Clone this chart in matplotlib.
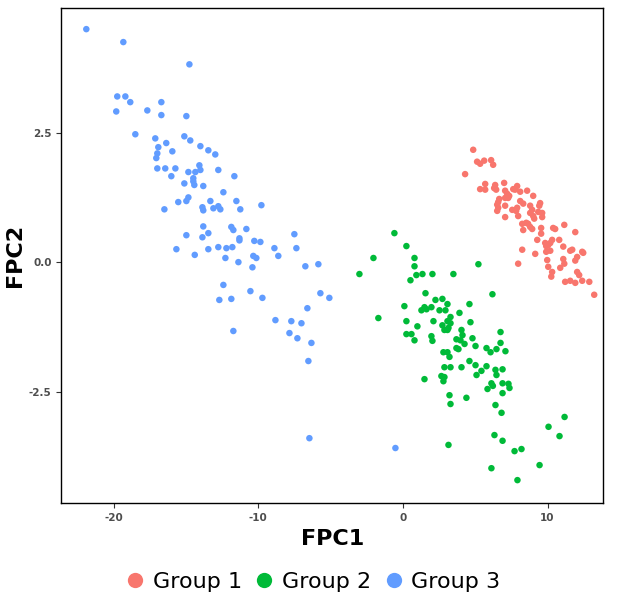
import matplotlib
matplotlib.use("Agg")
import matplotlib.pyplot as plt
from matplotlib.lines import Line2D

# Group 1 (red)
g1_x = [4.86, 5.13, 5.34, 5.62, 6.10, 6.24, 4.30, 5.69, 5.34, 5.69, 6.38, 6.31, 6.45, 7.00, 7.07,
        7.63, 7.90, 7.76, 8.11, 8.59, 9.01, 7.21, 7.35, 7.28, 7.07, 6.66, 6.59, 6.52, 6.59, 6.52,
        7.07, 8.11, 8.32, 7.56, 7.90, 7.83, 8.80, 8.94, 8.80, 9.49, 9.43, 9.36, 9.63, 7.07, 7.97,
        9.01, 9.08, 9.63, 8.25, 8.53, 8.66, 8.80, 8.94, 8.32, 9.56, 9.56, 9.29, 10.39, 10.53, 11.16,
        11.92, 10.32, 10.81, 9.84, 9.91, 10.05, 10.19, 8.25, 9.15, 9.91, 10.19, 11.09, 11.71, 11.57,
        12.40, 12.47, 7.97, 9.98, 11.09, 11.16, 12.05, 11.92, 10.05, 10.88, 10.32, 10.26, 12.05,
        12.19, 11.22, 11.57, 11.92, 12.40, 12.89, 13.23]
g1_y = [2.17, 1.94, 1.90, 1.96, 1.97, 1.88, 1.70, 1.51, 1.41, 1.40, 1.49, 1.43, 1.40, 1.53, 1.38,
        1.41, 1.47, 1.40, 1.36, 1.38, 1.28, 1.32, 1.28, 1.24, 1.24, 1.22, 1.16, 1.11, 1.05, 0.99,
        1.09, 1.18, 1.13, 1.01, 1.05, 0.99, 1.09, 1.01, 0.95, 1.14, 1.09, 0.97, 0.95, 0.87, 0.89,
        0.89, 0.84, 0.87, 0.74, 0.76, 0.74, 0.68, 0.64, 0.62, 0.66, 0.55, 0.43, 0.66, 0.64, 0.72,
        0.58, 0.43, 0.43, 0.37, 0.31, 0.33, 0.37, 0.24, 0.16, 0.20, 0.22, 0.30, 0.24, 0.22,
        0.20, 0.18, -0.03, 0.04, 0.06, -0.03, 0.10, 0.03, -0.09, -0.11, -0.19, -0.28, -0.19,
        -0.25, -0.38, -0.36, -0.40, -0.36, -0.38, -0.63]

# Group 2 (green)
g2_x = [-0.59, 0.24, -2.04, 0.80, -3.01, 0.80, 0.93, 1.35, 2.04, 3.49, 0.52, 5.22, 1.56, 6.19,
        2.25, 2.73, 3.08, 4.60, 0.10, -1.70, 1.28, 1.49, 1.63, 1.97, 2.53, 2.94, 3.91, 3.29, 4.67,
        0.24, 2.11, 3.08, 3.29, 1.00, 2.73, 2.87, 3.08, 3.15, 4.05, 6.75, 0.24, 0.59, 1.97, 4.12,
        4.81, 0.80, 2.04, 3.70, 3.98, 4.26, 5.02, 6.75, 3.70, 3.84, 2.80, 3.08, 5.78, 6.06, 6.47,
        7.09, 3.22, 4.60, 5.02, 5.78, 2.87, 3.29, 4.05, 5.43, 6.40, 6.89, 5.09, 6.47, 2.66, 2.87,
        2.80, 1.49, 6.12, 6.22, 5.85, 6.89, 7.30, 7.37, 6.89, 3.22, 4.39, 3.29, 6.40, 6.82, 11.18,
        10.07, 10.83, 6.33, 6.89, 3.15, 7.72, 8.20, 9.45, 6.12, 7.92]
g2_y = [0.56, 0.31, 0.08, 0.08, -0.23, -0.08, -0.25, -0.23, -0.23, -0.23, -0.35, -0.04, -0.60, -0.62,
        -0.73, -0.71, -0.81, -0.81, -0.85, -1.08, -0.93, -0.87, -0.91, -0.87, -0.93, -0.93, -0.98,
        -1.06, -1.16, -1.14, -1.14, -1.14, -1.18, -1.24, -1.22, -1.31, -1.31, -1.27, -1.31, -1.35,
        -1.39, -1.39, -1.43, -1.41, -1.47, -1.51, -1.52, -1.49, -1.51, -1.58, -1.62, -1.56, -1.66,
        -1.68, -1.74, -1.74, -1.66, -1.74, -1.68, -1.72, -1.83, -1.91, -1.99, -2.01, -2.03, -2.03,
        -2.03, -2.10, -2.08, -2.07, -2.18, -2.18, -2.20, -2.22, -2.30, -2.26, -2.34, -2.39, -2.45,
        -2.34, -2.35, -2.43, -2.53, -2.57, -2.62, -2.74, -2.76, -2.91, -2.99, -3.18, -3.36, -3.34,
        -3.45, -3.53, -3.65, -3.61, -3.92, -3.98, -4.21]

# Group 3 (blue)
g3_x = [-21.90, -19.34, -14.77, -19.76, -19.20, -18.86, -16.71, -19.83, -17.68, -16.71, -14.98,
        -18.51, -17.13, -15.12, -14.71, -16.92, -16.37, -14.01, -13.46, -12.98, -16.99, -15.95,
        -17.06, -14.08, -16.99, -16.44, -15.74, -14.84, -14.36, -14.01, -12.77, -16.02, -14.50,
        -14.50, -11.66, -14.43, -15.12, -13.81, -12.42, -14.84, -14.98, -15.54, -13.32, -11.52,
        -16.50, -13.87, -13.81, -13.11, -12.77, -12.63, -11.25, -9.79, -13.81, -14.98, -13.87,
        -13.46, -11.87, -11.73, -10.83, -11.31, -11.31, -10.28, -9.86, -7.51, -15.67, -13.46,
        -12.77, -12.21, -11.80, -8.89, -7.37, -14.40, -12.28, -11.38, -10.35, -10.14, -8.62,
        -10.41, -6.75, -5.85, -12.42, -12.70, -11.87, -10.55, -9.72, -5.71, -5.09, -6.61, -11.73,
        -8.82, -7.72, -7.02, -7.85, -7.30, -6.33, -6.54, -6.47, -0.52]
g3_y = [4.50, 4.25, 3.82, 3.20, 3.20, 3.09, 3.09, 2.91, 2.93, 2.84, 2.82, 2.47, 2.39, 2.43, 2.35,
        2.22, 2.30, 2.24, 2.16, 2.08, 2.10, 2.14, 2.01, 1.87, 1.81, 1.81, 1.81, 1.74, 1.74, 1.78,
        1.78, 1.66, 1.62, 1.56, 1.66, 1.49, 1.52, 1.47, 1.35, 1.25, 1.18, 1.16, 1.18, 1.18, 1.02,
        1.06, 1.00, 1.04, 1.08, 1.02, 1.02, 1.10, 0.69, 0.52, 0.48, 0.56, 0.68, 0.62, 0.64, 0.46,
        0.42, 0.41, 0.39, 0.54, 0.25, 0.25, 0.29, 0.27, 0.29, 0.27, 0.27, 0.14, 0.08, 0.00, 0.12,
        0.08, 0.12, -0.10, -0.08, -0.04, -0.44, -0.73, -0.71, -0.56, -0.69, -0.60, -0.69, -0.89,
        -1.33, -1.12, -1.14, -1.18, -1.37, -1.47, -1.56, -1.91, -3.40, -3.59]

groups = ["Group 1", "Group 2", "Group 3"]
colors = ["#F8766D", "#00BA38", "#619CFF"]
xs = [g1_x, g2_x, g3_x]
ys = [g1_y, g2_y, g3_y]

fig = plt.figure(figsize=(6.27, 6.08), dpi=100)
ax = fig.add_axes([0.098, 0.172, 0.864, 0.815])

# one scatter per group
for gx, gy, c in zip(xs, ys, colors):
    ax.scatter(gx, gy, s=22, color=c, edgecolors="none")

ax.set_xlim(-23.62, 13.85)
ax.set_ylim(-4.66, 4.91)
ax.set_xticks([-20, -10, 0, 10])
ax.set_xticklabels(["-20", "-10", "0", "10"])
ax.set_yticks([-2.5, 0.0, 2.5])
ax.set_yticklabels(["-2.5", "0.0", "2.5"])
ax.tick_params(labelsize=7.5, labelcolor="#4D4D4D", color="#333333", length=3.5, width=0.8)
for lab in ax.get_xticklabels() + ax.get_yticklabels():
    lab.set_fontweight("bold")
for sp in ax.spines.values():
    sp.set_color("black")
    sp.set_linewidth(1.0)

ax.set_xlabel("FPC1", fontsize=16, fontweight="bold", labelpad=4)
ax.set_ylabel("FPC2", fontsize=16, fontweight="bold", labelpad=3)

# legend at the bottom, no title
handles = [Line2D([], [], marker="o", linestyle="none", markersize=11,
                  markerfacecolor=c, markeredgecolor="none") for c in colors]
fig.legend(handles, groups, loc="center", bbox_to_anchor=(0.5, 1 - 582 / 608), ncol=3,
           frameon=False, fontsize=16, handlelength=0.8, handletextpad=0.4,
           columnspacing=0.6)

fig.savefig("out.png", dpi=100)
